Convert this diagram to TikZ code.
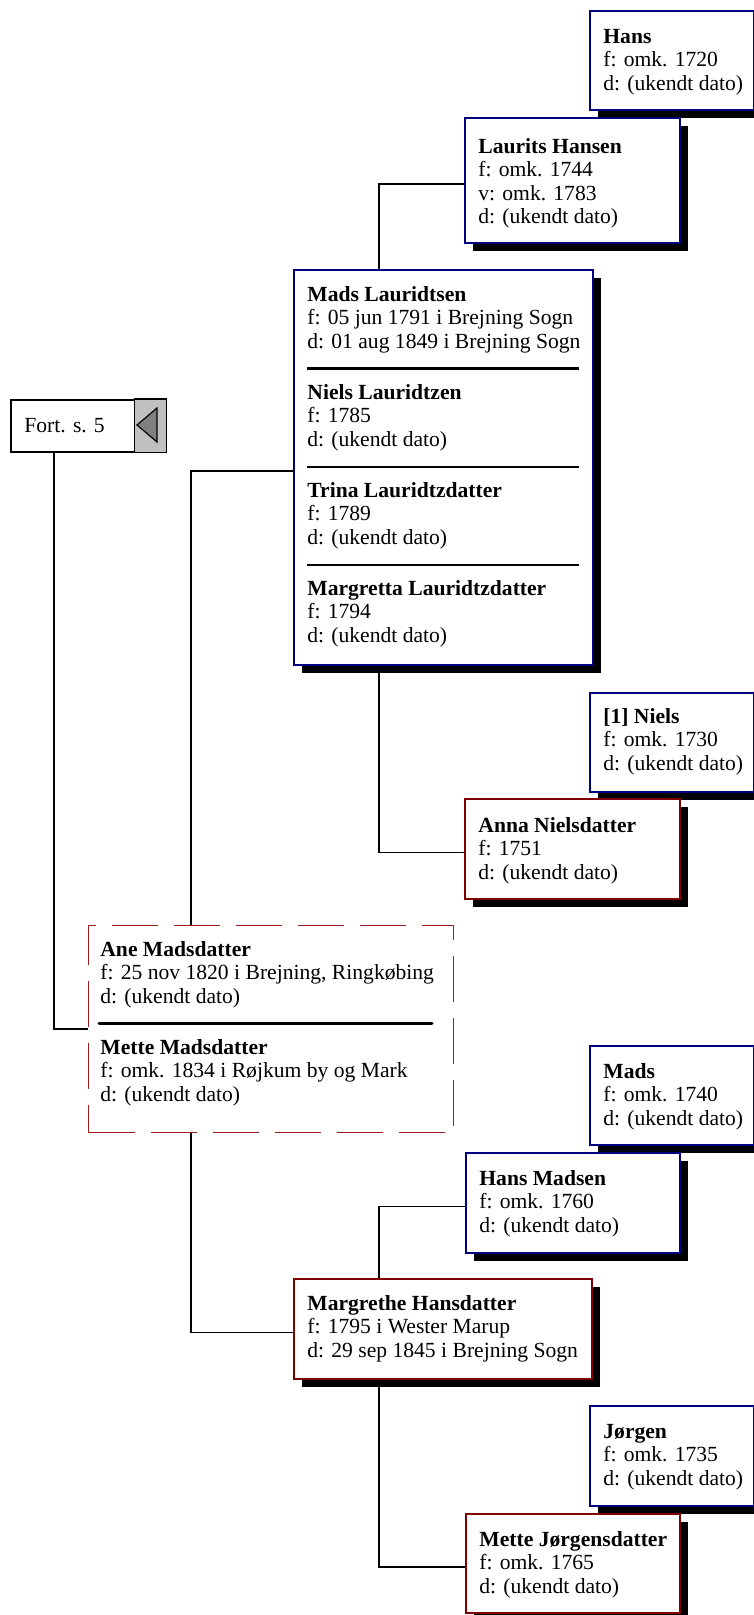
\documentclass[tikz,border=0pt]{standalone}
\usepackage{fontspec}
\setmainfont{Liberation Serif}
\usetikzlibrary{positioning, shadows}

\definecolor{boxblue}{RGB}{0,0,128}
\definecolor{boxred}{RGB}{128,0,0}
\definecolor{dashred}{RGB}{160,30,30}
\definecolor{tabgray}{RGB}{192,192,192}
\definecolor{arrowgray}{RGB}{128,128,128}

\newcommand{\who}[1]{\rule{0pt}{8pt}\textbf{#1}}

\begin{document}
\begin{tikzpicture}[x=0.5pt, y=-0.5pt,
  box/.style={draw, fill=white, line width=0.8pt, anchor=north west, inner sep=0pt,
    drop shadow={shadow xshift=4pt, shadow yshift=-4pt, fill=black, opacity=1}},
  male/.style={box, draw=boxblue},
  female/.style={box, draw=boxred},
  famdash/.style={draw=dashred, fill=white, line width=0.6pt, dash pattern=on 23pt off 8pt,
    anchor=north west, inner sep=0pt},
  fortbox/.style={draw, fill=white, line width=0.8pt, anchor=north west, inner sep=0pt},
  txt/.style={inner sep=0pt, align=left, font=\fontsize{10.8pt}{11.75pt}\selectfont},
  link/.style={line width=0.75pt}]
  \useasboundingbox (0,0) rectangle (754,1615);

  % columns of the tree
  \coordinate (c1) at (191,0);
  \coordinate (c2) at (379,0);

  % frames
  \node[male, minimum width=82pt, minimum height=49.5pt] (hans) at (589,10) {};
  \node[male, minimum width=107.5pt, minimum height=62.5pt] (laurits) at (464,117) {};
  \node[male, minimum width=149.5pt, minimum height=197.5pt] (madsfam) at (293,269) {};
  \node[male, minimum width=82pt, minimum height=49.5pt] (niels) at (589,692) {};
  \node[female, minimum width=107.5pt, minimum height=50pt] (anna) at (464,798) {};
  \node[fortbox, minimum width=77.5pt, minimum height=26pt] (fort) at (10,399) {};
  \node[famdash, minimum width=182.5pt, minimum height=103.5pt] (anefam) at (88,925) {};
  \node[male, minimum width=82pt, minimum height=49.5pt] (mads) at (589,1045) {};
  \node[male, minimum width=107pt, minimum height=50pt] (hansmadsen) at (465,1152) {};
  \node[female, minimum width=149pt, minimum height=50pt] (margrethe) at (293,1278) {};
  \node[male, minimum width=82pt, minimum height=50pt] (jorgen) at (589,1405) {};
  \node[female, minimum width=107pt, minimum height=49.5pt] (mettej) at (465,1513) {};

  % texts
  \node[txt, below right=8.5pt and 7pt of hans.north west] (hans-t)
    {\who{Hans}\\ f: omk. 1720\\ d: (ukendt dato)};
  \node[txt, below right=10pt and 7pt of laurits.north west] (laurits-t)
    {\who{Laurits Hansen}\\ f: omk. 1744\\ v: omk. 1783\\ d: (ukendt dato)};
  \node[txt, below right=8pt and 7pt of madsfam.north west] (madsfam-t)
    {\who{Mads Lauridtsen}\\ f: 05 jun 1791 i Brejning Sogn\\ d: 01 aug 1849 i Brejning Sogn\\[13.75pt]
     \who{Niels Lauridtzen}\\ f: 1785\\ d: (ukendt dato)\\[13.75pt]
     \who{Trina Lauridtzdatter}\\ f: 1789\\ d: (ukendt dato)\\[13.75pt]
     \who{Margretta Lauridtzdatter}\\ f: 1794\\ d: (ukendt dato)};
  \node[txt, below right=7.5pt and 7pt of niels.north west] (niels-t)
    {\who{[1] Niels}\\ f: omk. 1730\\ d: (ukendt dato)};
  \node[txt, below right=9pt and 7pt of anna.north west] (anna-t)
    {\who{Anna Nielsdatter}\\ f: 1751\\ d: (ukendt dato)};
  \node[txt, right=7pt of fort.west] (fort-t) {Fort. s. 5};
  \node[txt, below right=7.5pt and 6pt of anefam.north west] (anefam-t)
    {\who{Ane Madsdatter}\\ f: 25 nov 1820 i Brejning, Ringkøbing\\ d: (ukendt dato)\\[13.75pt]
     \who{Mette Madsdatter}\\ f: omk. 1834 i Røjkum by og Mark\\ d: (ukendt dato)};
  \node[txt, below right=8.5pt and 7pt of mads.north west] (mads-t)
    {\who{Mads}\\ f: omk. 1740\\ d: (ukendt dato)};
  \node[txt, below right=8.5pt and 7pt of hansmadsen.north west] (hansmadsen-t)
    {\who{Hans Madsen}\\ f: omk. 1760\\ d: (ukendt dato)};
  \node[txt, below right=8pt and 7pt of margrethe.north west] (margrethe-t)
    {\who{Margrethe Hansdatter}\\ f: 1795 i Wester Marup\\ d: 29 sep 1845 i Brejning Sogn};
  \node[txt, below right=8.5pt and 7pt of jorgen.north west] (jorgen-t)
    {\who{Jørgen}\\ f: omk. 1735\\ d: (ukendt dato)};
  \node[txt, below right=8.5pt and 7pt of mettej.north west] (mettej-t)
    {\who{Mette Jørgensdatter}\\ f: omk. 1765\\ d: (ukendt dato)};

  % separators
  \draw[line width=1.5pt] (307,368) -- (579,368);
  \draw[line width=0.75pt] (307,467) -- (579,467);
  \draw[line width=0.75pt] (307,565) -- (579,565);
  \draw[line width=1.5pt, line cap=round] (99,1023) -- (432,1023);

  % back tab of the Fort box
  \draw[fill=tabgray, line width=0.8pt] ([xshift=-16pt]fort.north east) rectangle (fort.south east);
  \draw[fill=arrowgray, line width=0.6pt] (137,425) -- (157,408) -- (157,442) -- cycle;

  % links
  \draw[link] (madsfam.north -| c2) |- ([yshift=-1.75pt]laurits.west);
  \draw[link] (anefam.north -| c1) |- ([yshift=-1.75pt]madsfam.west);
  \draw[link] (madsfam.south -| c2) |- ([yshift=-1.75pt]anna.west);
  \draw[link] ([xshift=22pt]fort.south west) |- (anefam.west);
  \draw[link] (anefam.south -| c1) |- ([yshift=-1.75pt]margrethe.west);
  \draw[link] (margrethe.north -| c2) |- ([yshift=-1.75pt]hansmadsen.west);
  \draw[link] (margrethe.south -| c2) |- ([yshift=-1.75pt]mettej.west);
\end{tikzpicture}
\end{document}
